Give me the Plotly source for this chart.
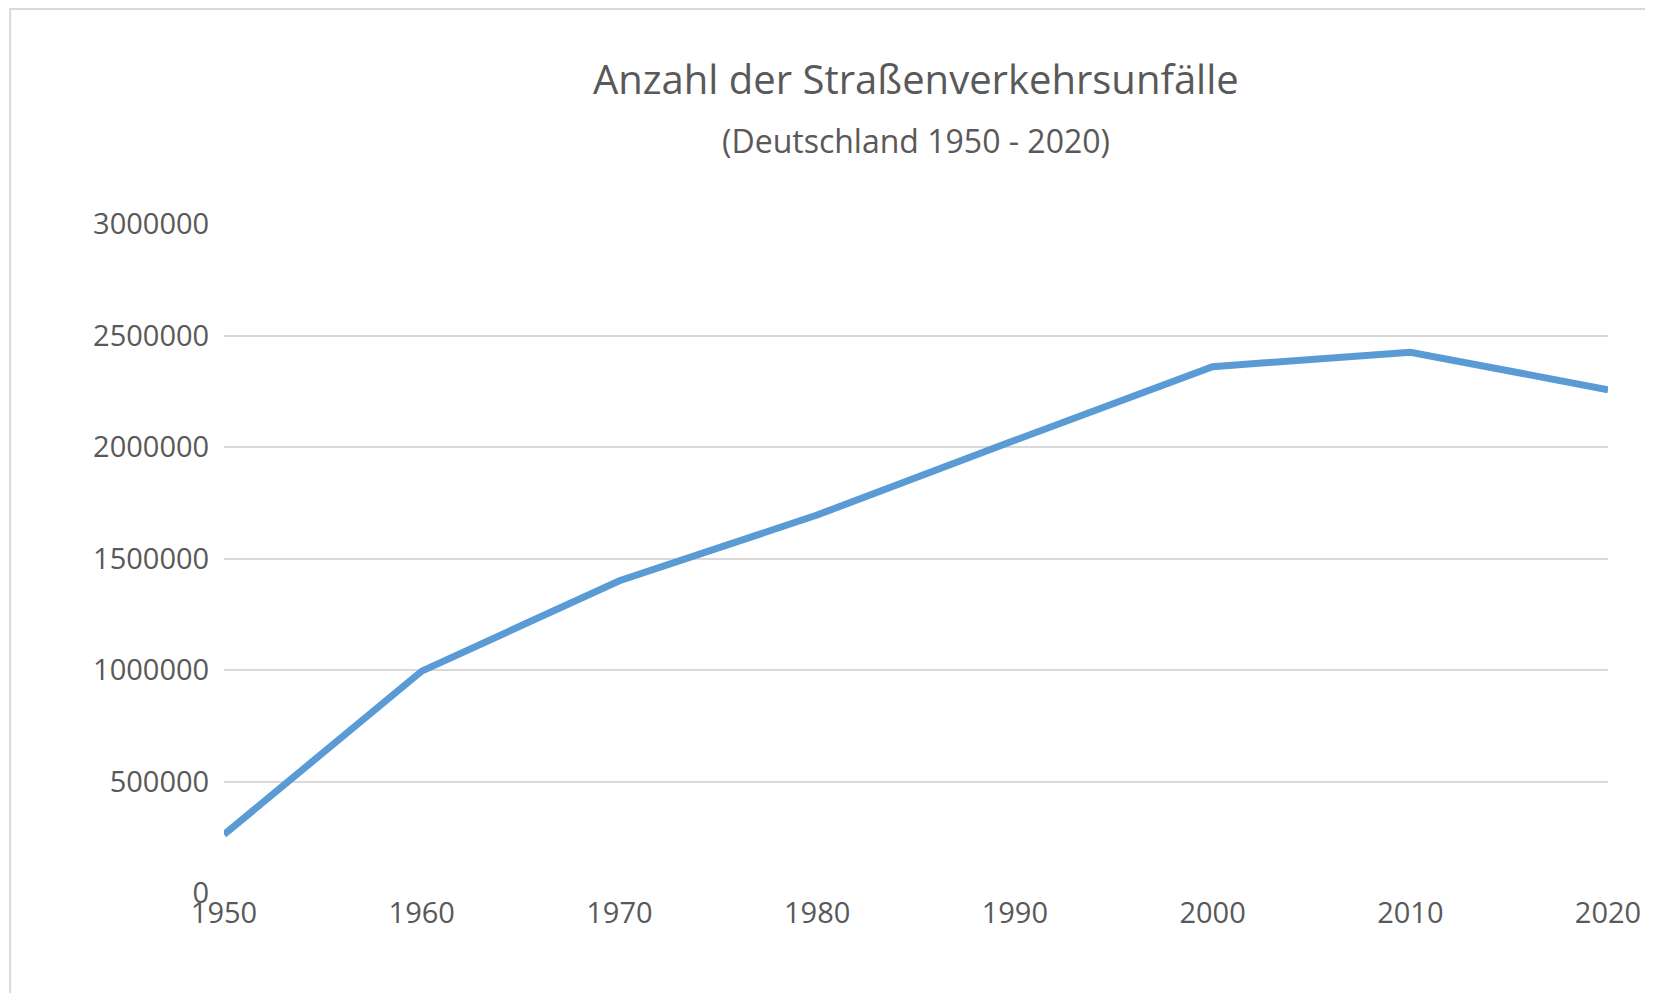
import plotly.graph_objects as go

years = [1950, 1960, 1970, 1980, 1990, 2000, 2010, 2020]
unfaelle = [262000, 995000, 1400000, 1695000, 2030000, 2360000, 2425000, 2257000]
y_ticks = [0, 500000, 1000000, 1500000, 2000000, 2500000, 3000000]

fig = go.Figure(go.Scatter(
    x=[str(y) for y in years], y=unfaelle, mode='lines',
    line=dict(color='#5b9bd5', width=7), hoverinfo='x+y'
))

# plot area is 669 px tall, top margin 216 px
fig.update_layout(
    width=1653, height=993,
    paper_bgcolor='white', plot_bgcolor='white',
    margin=dict(l=216, r=53, t=216, b=108),
    font=dict(family='Open Sans, Liberation Sans, sans-serif', color='#595959', size=29),
    showlegend=False,
    annotations=[
        dict(text='Anzahl der Straßenverkehrsunfälle', x=0.5, y=1.0 + (216 - 71) / 669,
             xref='paper', yref='paper', yanchor='middle', showarrow=False,
             font=dict(size=40, color='#595959')),
        dict(text='(Deutschland 1950 - 2020)', x=0.5, y=1.0 + (216 - 133) / 669,
             xref='paper', yref='paper', yanchor='middle', showarrow=False,
             font=dict(size=32, color='#595959')),
    ],
    shapes=[dict(type='rect', xref='paper', yref='paper', x0=-0.1545, x1=1.0375, y0=-0.1605, y1=1.3215,
                 line=dict(color='#d9d9d9', width=2))],
)

fig.update_xaxes(type='category', showgrid=False, showline=False, ticks='', zeroline=False)
fig.update_yaxes(range=[0, 3000000], tickvals=y_ticks, ticktext=[str(v) for v in y_ticks],
                 gridcolor='#d9d9d9', gridwidth=2, zeroline=False, showline=False,
                 ticks='outside', ticklen=8, tickcolor='white')

fig.write_html('out.html')
